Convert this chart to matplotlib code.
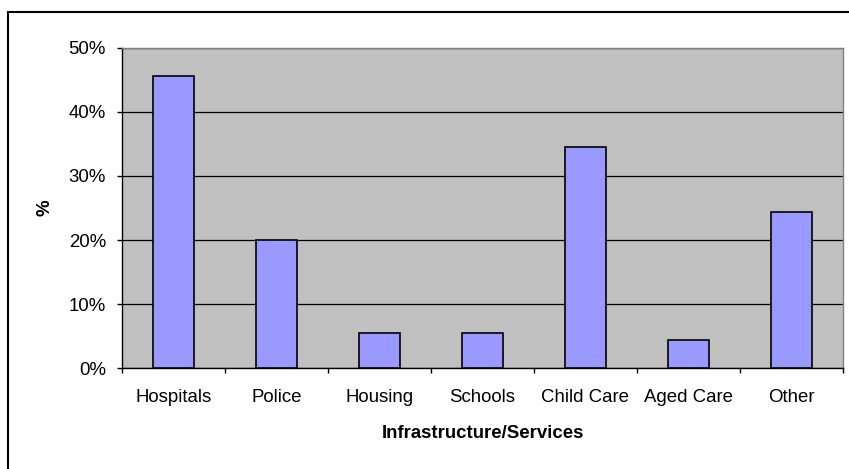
import matplotlib
matplotlib.use("Agg")
import matplotlib.pyplot as plt
from matplotlib.patches import Rectangle
from matplotlib.ticker import PercentFormatter, FixedLocator

plt.rcParams['font.family'] = ['Liberation Sans', 'DejaVu Sans']

# Share of responses per infrastructure/service category
categories = ['Hospitals', 'Police', 'Housing', 'Schools', 'Child Care', 'Aged Care', 'Other']
percent = [45.5, 20.0, 5.5, 5.5, 34.5, 4.4, 24.3]

FS = 13.4

fig = plt.figure(figsize=(8.49, 4.69), dpi=100)
ax = fig.add_axes([0.1437, 0.2143, 0.8492, 0.6844])

ax.set_facecolor('#C0C0C0')
x = range(len(categories))
ax.bar(x, percent, width=0.4, color='#9999FF', edgecolor='black', linewidth=1.2, zorder=3)

ax.set_xlim(-0.5, len(categories) - 0.5)
ax.set_ylim(0, 50)
ax.set_yticks(range(0, 51, 10))
ax.yaxis.set_major_formatter(PercentFormatter(decimals=0))
ax.grid(axis='y', color='black', linewidth=0.9, zorder=1)

# category labels centred, tick marks between categories
ax.set_xticks(list(x))
ax.set_xticklabels(categories)
ax.xaxis.set_minor_locator(FixedLocator([i - 0.5 for i in range(len(categories) + 1)]))
ax.tick_params(axis='x', which='major', length=0, pad=14.5, labelsize=FS)
ax.tick_params(axis='x', which='minor', length=3.6, width=1, color='black')
ax.tick_params(axis='y', length=3.6, width=1, pad=8, labelsize=FS)

for side in ('left', 'bottom'):
    ax.spines[side].set_color('black')
    ax.spines[side].set_linewidth(1)
for side in ('top', 'right'):
    ax.spines[side].set_color('#808080')
    ax.spines[side].set_linewidth(1)

ax.set_xlabel('Infrastructure/Services', fontsize=FS, fontweight='bold', va='center')
ax.xaxis.set_label_coords(0.5, (368.5 - 434) / 321)
ax.set_ylabel('%', fontsize=FS, fontweight='bold', va='center')
ax.yaxis.set_label_coords((44.5 - 122) / 721, 0.5)

# chart frame
fig.patches.append(Rectangle((8 / 849, -0.1), 1.2, 1 - 12 / 469 + 0.1,
                             transform=fig.transFigure, fill=False,
                             edgecolor='black', linewidth=1.5))

fig.savefig('out.png', dpi=100)
